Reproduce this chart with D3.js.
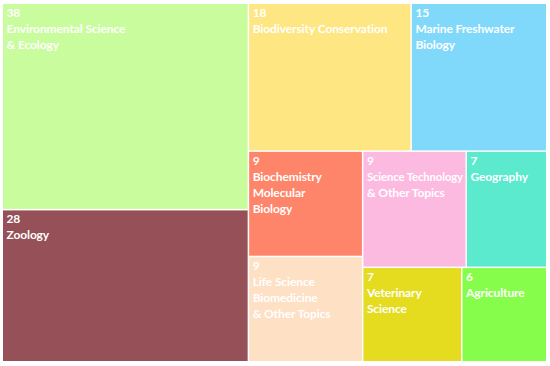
<!DOCTYPE html>
<html>
<head>
<meta charset="utf-8">
<script src="https://cdn.jsdelivr.net/npm/d3@7"></script>
<style>
html,body{margin:0;padding:0;background:#fff;}
svg{display:block;}
text{font-family:"Lato","Open Sans",sans-serif;font-weight:700;fill:#fff;}
</style>
</head>
<body>
<svg id="chart" width="550" height="366"></svg>
<script>
const categories = [
  "Environmental Science\n& Ecology",
  "Zoology",
  "Biodiversity Conservation",
  "Marine Freshwater\nBiology",
  "Biochemistry\nMolecular\nBiology",
  "Life Science\nBiomedicine\n& Other Topics",
  "Science Technology\n& Other Topics",
  "Geography",
  "Veterinary\nScience",
  "Agriculture"
];
const values = [38, 28, 18, 15, 9, 9, 9, 7, 7, 6];
const colors = ["#c9fc9d", "#955058", "#fee682", "#80d9fb", "#fe846a", "#fee0c5", "#fdbae1", "#5beace", "#e5dc1f", "#86fd4b"];

const W = 550, H = 366;
const margin = {left: 3, top: 4, right: 4, bottom: 5};

const data = {name: "root", children: categories.map((c, i) => ({name: c, value: values[i], color: colors[i]}))};
const root = d3.hierarchy(data).sum(d => d.value || 0);

d3.treemap()
  .tile(d3.treemapSquarify)
  .size([W - margin.left - margin.right, H - margin.top - margin.bottom])
  .paddingInner(1.5)
  (root);

const svg = d3.select("#chart");
const g = svg.append("g").attr("transform", `translate(${margin.left},${margin.top})`);

g.append("g").selectAll("rect").data(root.leaves()).join("rect")
  .attr("x", d => d.x0)
  .attr("y", d => d.y0)
  .attr("width", d => d.x1 - d.x0)
  .attr("height", d => d.y1 - d.y0)
  .attr("fill", d => d.data.color);

const labelG = g.append("g");
root.leaves().forEach(d => {
  const lines = [String(d.data.value)].concat(d.data.name.split("\n"));
  const maxW = (d.x1 - d.x0) - 6;
  lines.forEach((l, i) => {
    const t = labelG.append("text")
      .attr("font-size", 12)
      .attr("letter-spacing", -0.1)
      .attr("x", d.x0 + 3.5)
      .attr("y", d.y0 + 13 + i * 16)
      .text(l);
    const len = t.node().getComputedTextLength();
    if (len > maxW) {
      t.attr("textLength", maxW).attr("lengthAdjust", "spacingAndGlyphs");
    }
  });
});
</script>
</body>
</html>
